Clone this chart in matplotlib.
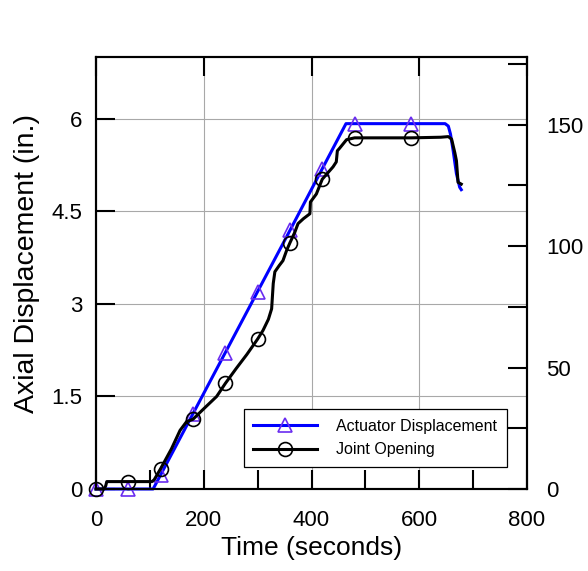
import matplotlib
matplotlib.use('Agg')
import matplotlib.pyplot as plt
from matplotlib.ticker import MultipleLocator, FixedLocator

plt.rcParams['font.family'] = ['Liberation Sans', 'DejaVu Sans']

# Actuator displacement (in.) vs time (s)
act_time = [0, 60, 106, 120, 180, 240, 300, 360, 420, 464, 480, 585,
            648, 654, 658, 663, 669, 675, 678]
act_disp = [0, 0, 0, 0.23, 1.22, 2.21, 3.20, 4.19, 5.19, 5.92, 5.92, 5.92,
            5.92, 5.88, 5.75, 5.48, 5.11, 4.89, 4.85]
act_marks = [0, 1, 3, 4, 5, 6, 7, 8, 10, 11]

# Joint opening (in.) vs time (s)
joint_time = [0, 15, 18, 20, 60, 104, 108, 120, 140, 156, 168, 180, 200, 224,
              240, 260, 280, 300, 310, 320, 326, 329, 332, 340, 347, 354, 360,
              369, 375, 385, 397, 398, 409, 420, 430, 440, 446, 448, 452, 465,
              480, 520, 585, 640, 654, 660, 666, 669, 672, 676, 678]
joint_disp = [0, 0, 0.05, 0.12, 0.12, 0.12, 0.15, 0.33, 0.65, 0.95, 1.09, 1.13,
              1.30, 1.50, 1.71, 1.95, 2.18, 2.43, 2.57, 2.75, 2.92, 3.33, 3.52,
              3.62, 3.70, 3.87, 3.99, 4.16, 4.30, 4.38, 4.46, 4.65, 4.78, 5.02,
              5.12, 5.22, 5.30, 5.48, 5.52, 5.66, 5.69, 5.69, 5.69, 5.70, 5.71,
              5.67, 5.45, 5.32, 4.97, 4.95, 4.94]
joint_marks = [0, 4, 7, 11, 14, 17, 26, 33, 40, 42]

fig = plt.figure(figsize=(5.88, 5.71), dpi=100)
ax = fig.add_axes([96 / 588, 82 / 571, 431 / 588, 432 / 571])

ax.plot(act_time, act_disp, color='#0000ff', lw=2.2, marker='^', markevery=act_marks,
        ms=10, mfc='none', mec='#6a2cf0', mew=1.2, label='Actuator Displacement',
        zorder=3, clip_on=False)
ax.plot(joint_time, joint_disp, color='black', lw=2.2, marker='o', markevery=joint_marks,
        ms=10, mfc='none', mec='black', mew=1.2, label='Joint Opening',
        zorder=4, clip_on=False)

ax.set_xlim(0, 800)
ax.set_ylim(0, 7)
ax.set_xticks([0, 200, 400, 600, 800])
ax.xaxis.set_minor_locator(FixedLocator([100, 300, 500, 700]))
ax.set_yticks([0, 1.5, 3, 4.5, 6])
ax.set_yticklabels(['0', '1.5', '3', '4.5', '6'])
ax.grid(True, color='#a8a8a8', lw=0.8)
ax.set_axisbelow(True)

ax.tick_params(axis='x', which='both', direction='in', length=14, width=1.5,
               top=True, labelsize=16, pad=15)
ax.tick_params(axis='x', which='minor', top=False)
ax.tick_params(axis='y', which='both', direction='in', length=14, width=1.5,
               right=False, labelsize=16, pad=10)
for s in ax.spines.values():
    s.set_linewidth(1.5)

ax.set_xlabel('Time (seconds)', fontsize=19, labelpad=4)
ax.set_ylabel('Axial Displacement (in.)', fontsize=20.5, labelpad=8)
ax.yaxis.label.set_y(0.522)

ax2 = ax.twinx()
ax2.set_ylim(0, 7 * 25.4)
ax2.yaxis.set_major_locator(MultipleLocator(50))
ax2.yaxis.set_minor_locator(FixedLocator([25, 75, 125, 175]))
ax2.tick_params(axis='y', which='both', direction='in', length=14, width=1.5,
                labelsize=16, pad=14)
for s in ax2.spines.values():
    s.set_linewidth(1.5)

leg = ax2.legend(*ax.get_legend_handles_labels(), loc='lower left',
                 bbox_to_anchor=(0.343, 0.051), borderaxespad=0, fontsize=11.5,
                 fancybox=False, framealpha=1, edgecolor='black', handlelength=4.0,
                 handletextpad=1.2, borderpad=0.6, labelspacing=0.55)
leg.get_frame().set_linewidth(0.9)

fig.savefig('out.png', dpi=100)
